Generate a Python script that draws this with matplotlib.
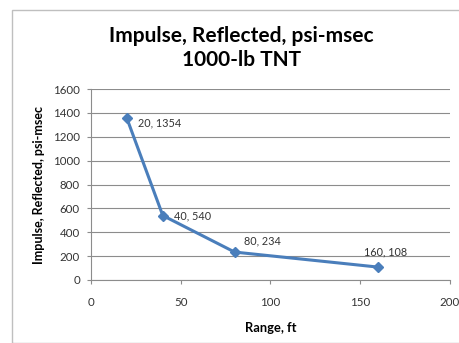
import matplotlib
matplotlib.use("Agg")
import matplotlib.pyplot as plt
from matplotlib.patches import Rectangle

plt.rcParams['font.family'] = ['Lato', 'DejaVu Sans']

range_ft = [20, 40, 80, 160]
impulse = [1354, 540, 234, 108]
labels = ["20, 1354", "40, 540", "80, 234", "160, 108"]
label_offsets = [(8, -3), (8, 0), (7, 8), (-10, 11)]

fig = plt.figure(figsize=(4.6, 3.43), dpi=100)
fig.patches.append(Rectangle((12/460, 0), 1.2, 1 - 10/343, transform=fig.transFigure,
                             fill=False, edgecolor='#BFBFBF', linewidth=1.0))
ax = fig.add_axes([91/460, 1 - 280/343, (450 - 91)/460, (280 - 89)/343])

ax.plot(range_ft, impulse, color='#4A7EBB', linewidth=2.2, marker='D', markersize=5,
        zorder=3, clip_on=False)
for x, y, t, (dx, dy) in zip(range_ft, impulse, labels, label_offsets):
    ax.annotate(t, (x, y), xytext=(dx, dy), textcoords='offset points', fontsize=7.8,
                color='#333333', va='center', ha='left')

ax.set_xlim(0, 200)
ax.set_ylim(0, 1600)
ax.set_xticks([0, 50, 100, 150, 200])
ax.set_yticks(range(0, 1601, 200))
ax.grid(axis='y', color='#8C8C8C', linewidth=0.8)
ax.set_axisbelow(True)
for s in ['top', 'right']:
    ax.spines[s].set_visible(False)
ax.spines['left'].set_color('#8C8C8C')
ax.spines['bottom'].set_color('#8C8C8C')
ax.tick_params(axis='both', labelsize=8.3, colors='#8C8C8C', labelcolor='#333333',
               length=3, direction='out')
ax.tick_params(axis='x', pad=9)
ax.tick_params(axis='y', pad=5)
ax.set_xlabel('Range, ft', fontsize=9.3, fontweight='bold', labelpad=10)
ax.set_ylabel('Impulse, Reflected, psi-msec', fontsize=9, fontweight='bold', labelpad=6)

fig.text(0.525, 1 - 48/343, 'Impulse, Reflected, psi-msec\n1000-lb TNT', ha='center', va='center',
         fontsize=15, fontweight='bold', linespacing=1.2, color='#000000')

fig.savefig('out.png', dpi=100)
